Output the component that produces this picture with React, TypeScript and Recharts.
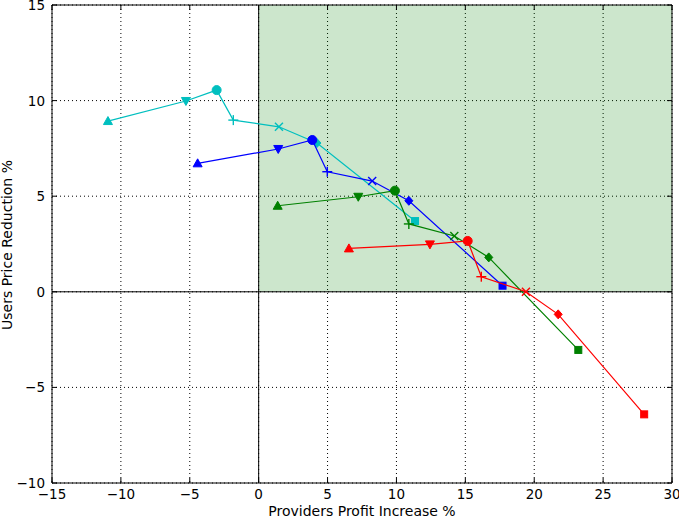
import React from "react";
import {
  CartesianGrid,
  ReferenceArea,
  ReferenceLine,
  Scatter,
  ScatterChart,
  XAxis,
  YAxis,
} from "recharts";

// frame of the plot, in page pixels (used only for tick / title decoration)
const PLOT = { left: 52, right: 672, top: 5, bottom: 483 };
const FONT = "'DejaVu Sans', sans-serif";

const xTicks = [-15, -10, -5, 0, 5, 10, 15, 20, 25, 30];
const yTicks = [-10, -5, 0, 5, 10, 15];

// marker sequence shared by every series, one per point
const markerKinds = ["triUp", "triDown", "circle", "plus", "cross", "diamond", "square"];

const cyanX = [-10.94, -5.28, -3.05, -1.84, 1.47, 4.23, 11.35];
const cyanY = [8.93, 9.98, 10.55, 8.98, 8.63, 7.78, 3.7];

const blueX = [-4.43, 1.42, 3.89, 4.98, 8.24, 10.9, 17.7];
const blueY = [6.72, 7.47, 7.94, 6.28, 5.79, 4.76, 0.32];

const greenX = [1.38, 7.23, 9.89, 10.9, 14.2, 16.7, 23.2];
const greenY = [4.5, 4.97, 5.29, 3.55, 2.92, 1.8, -3.04];

const redX = [6.55, 12.43, 15.17, 16.16, 19.4, 21.74, 27.98];
const redY = [2.27, 2.48, 2.66, 0.79, 0.0, -1.18, -6.41];

const series = [
  { name: "cyan", color: "#00bfbf", xs: cyanX, ys: cyanY },
  { name: "blue", color: "#0000ff", xs: blueX, ys: blueY },
  { name: "green", color: "#008000", xs: greenX, ys: greenY },
  { name: "red", color: "#ff0000", xs: redX, ys: redY },
];

const fmt = (v: number) => (v < 0 ? `\u2212${Math.abs(v)}` : `${v}`);

function Marker(props: any) {
  const { cx, cy, payload, color } = props;
  if (cx == null || cy == null) return null;
  const kind = markerKinds[payload.k];
  const s = 4;
  switch (kind) {
    case "triUp":
      return <polygon points={`${cx},${cy - 4.5} ${cx - 4.5},${cy + 3.5} ${cx + 4.5},${cy + 3.5}`} fill={color} stroke={color} />;
    case "triDown":
      return <polygon points={`${cx},${cy + 4.5} ${cx - 4.5},${cy - 3.5} ${cx + 4.5},${cy - 3.5}`} fill={color} stroke={color} />;
    case "circle":
      return <circle cx={cx} cy={cy} r={4.5} fill={color} stroke={color} />;
    case "plus":
      return (
        <g stroke={color} strokeWidth={1.4}>
          <line x1={cx - s - 1} x2={cx + s + 1} y1={cy} y2={cy} />
          <line x1={cx} x2={cx} y1={cy - s - 1} y2={cy + s + 1} />
        </g>
      );
    case "cross":
      return (
        <g stroke={color} strokeWidth={1.4}>
          <line x1={cx - s} x2={cx + s} y1={cy - s} y2={cy + s} />
          <line x1={cx - s} x2={cx + s} y1={cy + s} y2={cy - s} />
        </g>
      );
    case "diamond":
      return <polygon points={`${cx},${cy - 4.5} ${cx + 4},${cy} ${cx},${cy + 4.5} ${cx - 4},${cy}`} fill={color} stroke={color} />;
    default:
      return <rect x={cx - 3.5} y={cy - 3.5} width={7} height={7} fill={color} stroke={color} />;
  }
}

function XTick({ x, payload }: any) {
  return (
    <g>
      <line x1={x} x2={x} y1={PLOT.bottom} y2={PLOT.bottom - 5} stroke="#000" />
      <line x1={x} x2={x} y1={PLOT.top} y2={PLOT.top + 5} stroke="#000" />
      <text x={x} y={PLOT.bottom + 16} textAnchor="middle" fontFamily={FONT} fontSize={13.5} fill="#000">
        {fmt(payload.value)}
      </text>
    </g>
  );
}

function YTick({ y, payload }: any) {
  return (
    <g>
      <line x1={PLOT.left} x2={PLOT.left + 5} y1={y} y2={y} stroke="#000" />
      <line x1={PLOT.right} x2={PLOT.right - 5} y1={y} y2={y} stroke="#000" />
      <text x={PLOT.left - 7} y={y + 5} textAnchor="end" fontFamily={FONT} fontSize={13.5} fill="#000">
        {fmt(payload.value)}
      </text>
    </g>
  );
}

function XTitle() {
  return (
    <text x={(PLOT.left + PLOT.right) / 2} y={516} textAnchor="middle" fontFamily={FONT} fontSize={14} fill="#000">
      Providers Profit Increase %
    </text>
  );
}

function YTitle() {
  return (
    <text transform="translate(11.5,245) rotate(-90)" textAnchor="middle" fontFamily={FONT} fontSize={14} fill="#000">
      Users Price Reduction %
    </text>
  );
}

export default function App() {
  return (
    <div style={{ position: "absolute", left: 0, top: 0, background: "#fff" }}>
      <ScatterChart width={679} height={518} margin={{ top: 5, right: 7, bottom: 0, left: 0 }}>
        <ReferenceArea x1={0} x2={30} y1={0} y2={15} fill="#008000" fillOpacity={0.2} stroke="none" />
        <CartesianGrid stroke="#000" strokeDasharray="1 3" horizontalValues={yTicks} verticalValues={xTicks} />
        <XAxis
          type="number"
          dataKey="x"
          domain={[-15, 30]}
          ticks={xTicks}
          allowDataOverflow
          height={35}
          tickSize={0}
          tickMargin={0}
          tickLine={false}
          axisLine={false}
          tick={<XTick />}
          interval={0}
          label={<XTitle />}
        />
        <YAxis
          type="number"
          dataKey="y"
          domain={[-10, 15]}
          ticks={yTicks}
          allowDataOverflow
          width={52}
          tickSize={0}
          tickMargin={0}
          tickLine={false}
          axisLine={false}
          tick={<YTick />}
          interval={0}
          label={<YTitle />}
        />
        <ReferenceLine x={0} stroke="#000" strokeWidth={1} />
        <ReferenceLine y={0} stroke="#000" strokeWidth={1} />
        <ReferenceArea x1={-15} x2={30} y1={-10} y2={15} fill="none" stroke="#000" strokeWidth={1} />
        {series.map((s) => (
          <Scatter
            key={s.name}
            name={s.name}
            data={s.xs.map((x, i) => ({ x, y: s.ys[i], k: i }))}
            line={{ stroke: s.color, strokeWidth: 1.2 }}
            fill={s.color}
            shape={(p: any) => <Marker {...p} color={s.color} />}
            isAnimationActive={false}
          />
        ))}
      </ScatterChart>
    </div>
  );
}
